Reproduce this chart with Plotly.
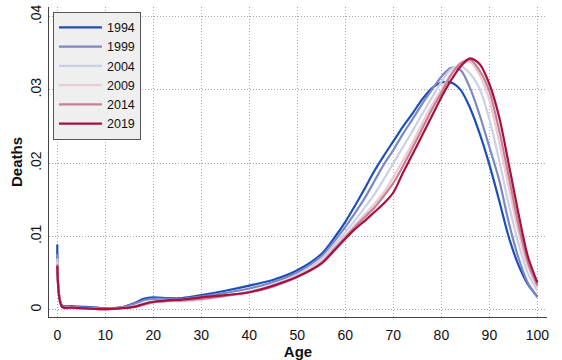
import plotly.graph_objects as go

ages = [0, 1, 3, 6, 10, 13, 16, 18, 20, 23, 26, 30, 35, 40, 45, 50, 55, 58, 60, 62,
        64, 66, 68, 70, 72, 74, 76, 78, 80, 82, 84, 86, 88, 90, 92, 94, 96, 98, 100]

years = ["1994", "1999", "2004", "2009", "2014", "2019"]

deaths_1994 = [.0089, .0006, .0005, .0004, .0002, .0003, .0009, .0015, .0017, .0016, .0016, .0020,
               .0026, .0033, .0041, .0054, .0076, .0101, .0120, .0142, .0165, .0189, .0210, .0230,
               .0250, .0268, .0287, .0302, .0310, .0310, .0300, .0275, .0240, .0198, .0150, .0100,
               .0062, .0035, .0018]
deaths_1999 = [.0076, .0005, .0004, .0003, .0002, .0003, .0008, .0013, .0015, .0015, .0015, .0018,
               .0023, .0029, .0038, .0051, .0073, .0096, .0113, .0132, .0152, .0175, .0198, .0218,
               .0240, .0260, .0281, .0300, .0318, .0330, .0327, .0302, .0265, .0222, .0178, .0120,
               .0072, .0037, .0017]
deaths_2004 = [.0070, .0004, .0003, .0002, .0001, .0002, .0005, .0009, .0011, .0012, .0012, .0014,
               .0019, .0025, .0034, .0048, .0069, .0091, .0106, .0122, .0139, .0157, .0178, .0200,
               .0222, .0244, .0267, .0289, .0311, .0328, .0332, .0322, .0301, .0260, .0205, .0145,
               .0092, .0050, .0026]
deaths_2009 = [.0066, .0004, .0003, .0002, .0001, .0002, .0004, .0007, .0010, .0012, .0013, .0015,
               .0019, .0024, .0032, .0046, .0066, .0087, .0101, .0116, .0130, .0144, .0160, .0181,
               .0204, .0228, .0254, .0279, .0300, .0322, .0337, .0338, .0320, .0286, .0230, .0168,
               .0108, .0060, .0030]
deaths_2014 = [.0062, .0004, .0003, .0002, .0001, .0002, .0004, .0007, .0010, .0012, .0013, .0015,
               .0019, .0024, .0032, .0045, .0064, .0085, .0099, .0113, .0126, .0139, .0155, .0173,
               .0196, .0221, .0247, .0273, .0296, .0320, .0336, .0341, .0326, .0298, .0246, .0183,
               .0118, .0065, .0033]
deaths_2019 = [.0060, .0004, .0003, .0002, .0001, .0002, .0004, .0008, .0011, .0013, .0014, .0017,
               .0020, .0024, .0033, .0045, .0063, .0083, .0097, .0110, .0121, .0133, .0145, .0160,
               .0187, .0212, .0238, .0264, .0290, .0313, .0332, .0343, .0335, .0308, .0264, .0200,
               .0133, .0073, .0037]

series = [deaths_1994, deaths_1999, deaths_2004, deaths_2009, deaths_2014, deaths_2019]
colors = ["#1b4fb6", "#7b87c6", "#cbd0e6", "#ebcbd3", "#c97f92", "#a8103f"]

x_ticks = [0, 10, 20, 30, 40, 50, 60, 70, 80, 90, 100]
y_ticks = [0, 0.01, 0.02, 0.03, 0.04]
y_labels = ["0", ".01", ".02", ".03", ".04"]

FONT = "Liberation Sans, Arial, sans-serif"

fig = go.Figure()
for yr, vals, col in zip(years, series, colors):
    fig.add_trace(go.Scatter(x=ages, y=vals, mode="lines", name=yr,
                             line=dict(color=col, width=2.2, shape="spline", smoothing=0.8)))

common = dict(showgrid=True, gridcolor="#a8a8a8", griddash="1px,2px", gridwidth=1,
              zeroline=False, showline=True, linecolor="#444444", linewidth=1.3,
              ticks="outside", tickcolor="rgba(0,0,0,0)",
              tickfont=dict(family=FONT, size=14, color="#111111"))

fig.update_layout(
    width=562, height=360,
    margin=dict(l=49, r=15, t=5, b=40),
    paper_bgcolor="white", plot_bgcolor="white",
    font=dict(family=FONT, size=14, color="#111111"),
    xaxis=dict(range=[-1.73, 102.0], tickvals=x_ticks, ticklen=5,
               title=dict(text="<b>Age</b>", font=dict(family=FONT, size=15), standoff=2),
               **common),
    yaxis=dict(range=[-0.00098, 0.0413], tickvals=y_ticks, ticktext=y_labels, tickangle=-90,
               ticklen=1,
               title=dict(text="<b>Deaths</b>", font=dict(family=FONT, size=15), standoff=2),
               **common),
    legend=dict(x=0.008, y=0.985, xanchor="left", yanchor="top",
                bgcolor="#efefef", bordercolor="#555555", borderwidth=1,
                font=dict(family=FONT, size=12.5, color="#111111"),
                itemwidth=43, tracegroupgap=0),
    showlegend=True,
)

fig.write_html("out.html")
